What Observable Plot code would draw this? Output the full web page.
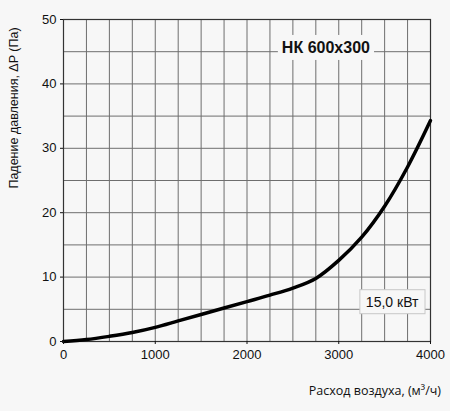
<!DOCTYPE html>
<html><head><meta charset="utf-8">
<script src="https://cdn.jsdelivr.net/npm/d3@7"></script>
<script src="https://cdn.jsdelivr.net/npm/@observablehq/plot@0.6"></script>
<style>
html,body{margin:0;padding:0;background:#f7f7f7;}
#chart{width:450px;height:411px;}
</style></head>
<body><div id="chart"></div>
<script>
const flow = [0,250,500,750,1000,1250,1500,1750,2000,2250,2500,2750,3000,3250,3500,3750,4000];
const pressure = [0,0.3,0.8,1.4,2.2,3.2,4.2,5.2,6.2,7.2,8.3,9.8,12.6,16.2,21.0,27.1,34.3];
const xTicks = [0,1000,2000,3000,4000];
const yTicks = [0,10,20,30,40,50];
const xGrid = [250,500,750,1000,1250,1500,1750,2000,2250,2500,2750,3000,3250,3500,3750];
const yGrid = [5,10,15,20,25,30,35,40,45];
const modelLabel = "НК 600x300";
const powerLabel = "15,0 кВт";
const xTitle = "Расход воздуха, (м³/ч)";
const yTitle = "Падение давления, ΔP (Па)";

const data = flow.map((f,i)=>({flow:f, p:pressure[i]}));

const chart = Plot.plot({
  width:450, height:411,
  marginLeft:63, marginRight:20, marginTop:19, marginBottom:70,
  style:{background:"#f7f7f7", fontFamily:"Liberation Sans, Arial, sans-serif", fontSize:"13px", color:"#111"},
  x:{domain:[0,4000], label:null},
  y:{domain:[0,50], label:null},
  marks:[
    Plot.ruleX(xGrid,{stroke:"#6e6e6e", strokeWidth:1}),
    Plot.ruleY(yGrid,{stroke:"#6e6e6e", strokeWidth:1}),
    Plot.frame({stroke:"#333", strokeWidth:1.2}),
    Plot.line(data,{x:"flow", y:"p", curve:"catmull-rom", stroke:"#000", strokeWidth:3.5}),
    Plot.text([{x:2860,y:45.6}],{x:"x", y:"y", text:()=>modelLabel, fontWeight:"bold", fontSize:16, fill:"#111"}),
    Plot.text([{x:3582,y:6.1}],{x:"x", y:"y", text:()=>powerLabel, fontSize:14, fill:"#111"}),
    Plot.axisX({ticks:xTicks, tickSize:3, tickPadding:5, fontSize:13, label:null, tickFormat:d=>String(d)}),
    Plot.axisY({ticks:yTicks, tickSize:3, tickPadding:4, fontSize:13, label:null})
  ]
});

document.getElementById("chart").append(chart);

const svg = d3.select(chart);
svg.selectAll("g[aria-label='text'] text").each(function(){
  const bb = this.getBBox();
  const g = this.parentNode;
  const isPower = this.textContent === powerLabel;
  const padX = isPower ? 6 : 4, padY = 4;
  const r = d3.select(g).insert("rect", ()=>this)
    .attr("x", bb.x - padX).attr("y", bb.y - padY)
    .attr("width", bb.width + 2*padX).attr("height", bb.height + 2*padY)
    .attr("fill", "#f7f7f7")
    .attr("stroke", isPower ? "#c8c8c8" : "none");
  const t = this.getAttribute("transform");
  if (t) r.attr("transform", t);
  if (this.getAttribute("x")) r.attr("x", +this.getAttribute("x") + bb.x - padX);
});

svg.append("text").attr("x", 441).attr("y", 395).attr("text-anchor","end")
  .style("font-family","Open Sans, sans-serif").style("font-size","12.5px").attr("fill","#111")
  .text(xTitle);
svg.append("text").attr("transform","translate(18,108) rotate(-90)").attr("text-anchor","middle")
  .style("font-family","Liberation Sans, Arial, sans-serif").style("font-size","12.5px").attr("fill","#111")
  .text(yTitle);
</script></body></html>
